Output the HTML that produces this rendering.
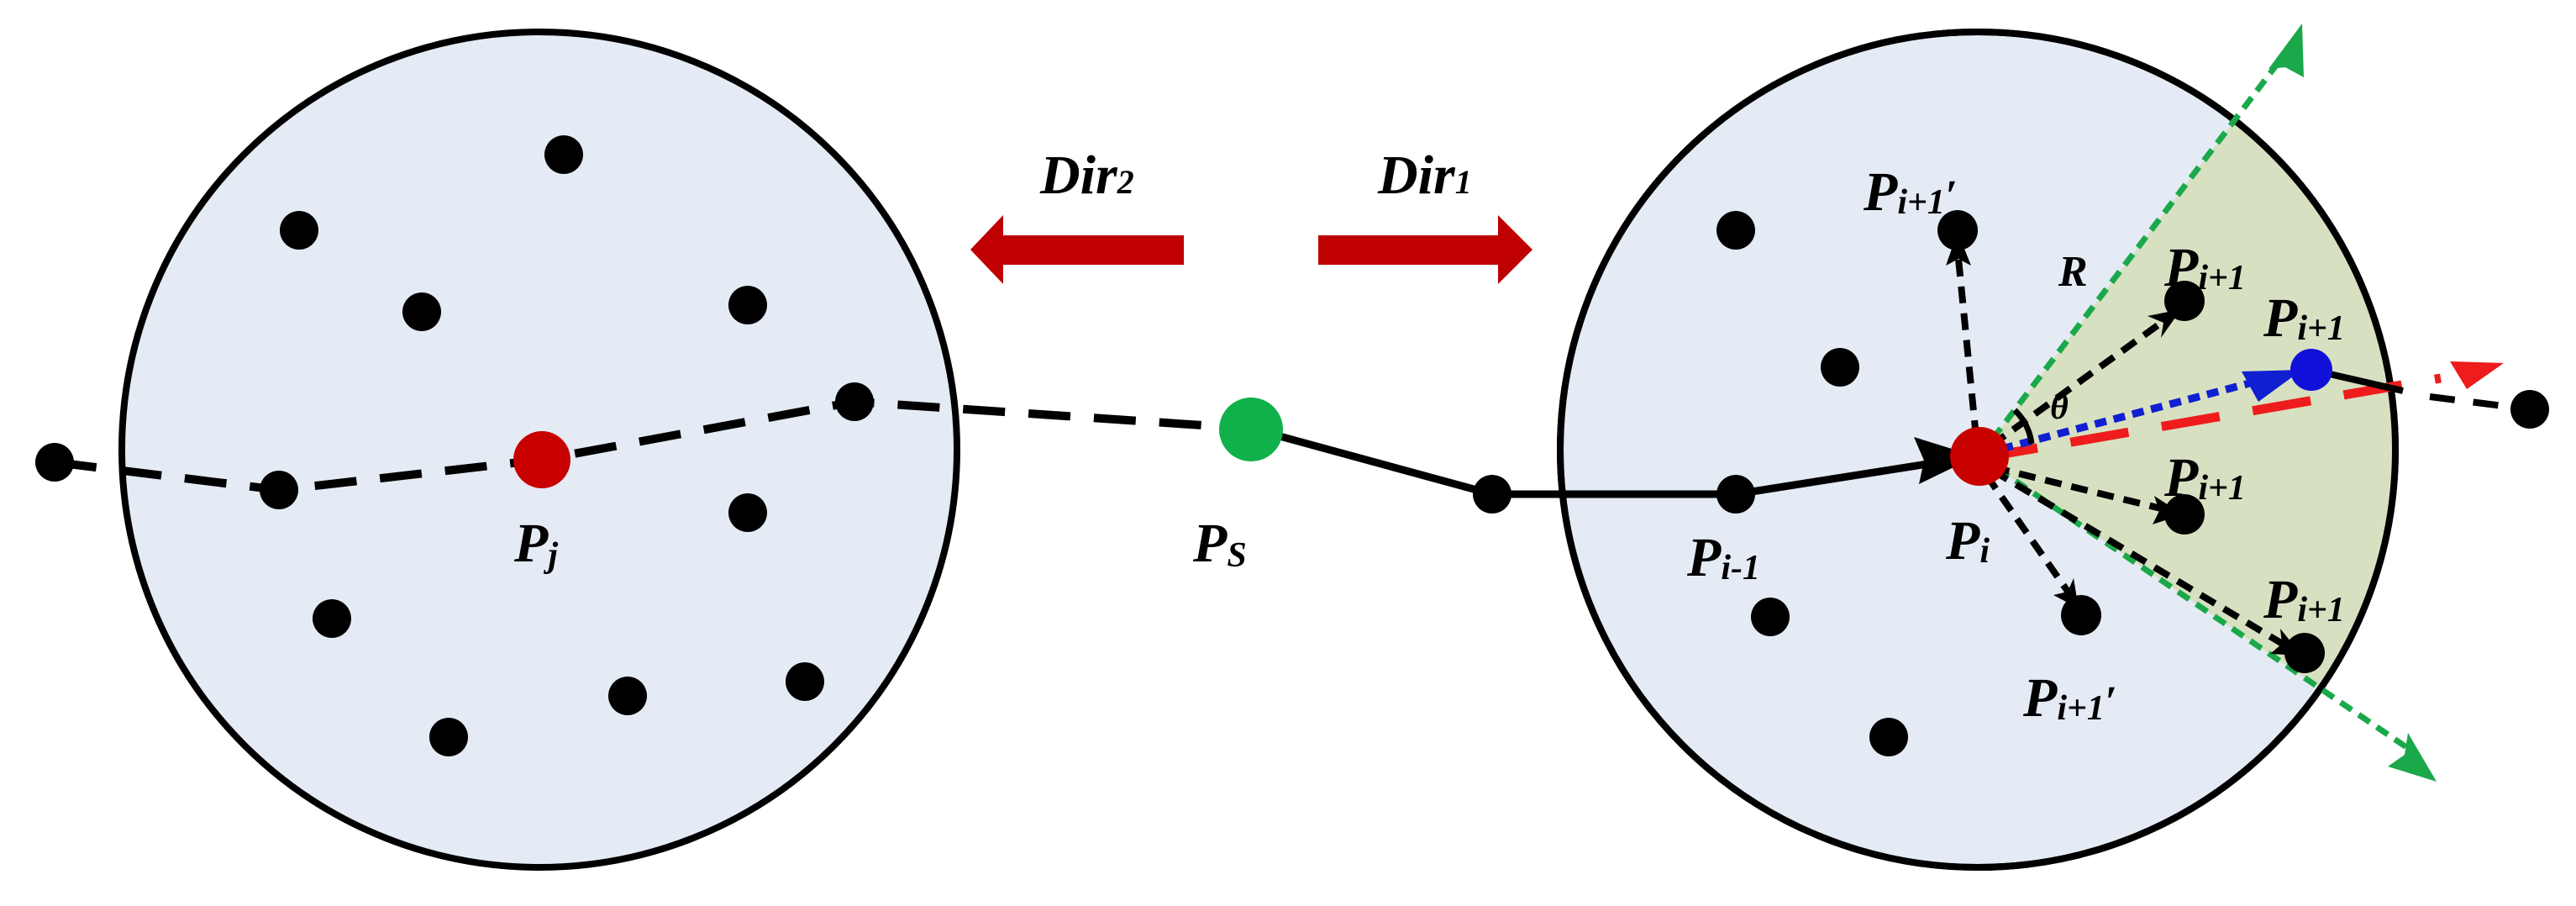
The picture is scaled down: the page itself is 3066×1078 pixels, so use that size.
<!DOCTYPE html>
<html><head><meta charset="utf-8"><style>
html,body{margin:0;padding:0;background:#fff;width:3066px;height:1078px;overflow:hidden}
svg{display:block}
text{font-family:"Liberation Serif",serif;font-weight:bold;font-style:italic;fill:#000}
</style></head><body>
<svg width="3066" height="1078" viewBox="0 0 3066 1078" xmlns="http://www.w3.org/2000/svg">
<defs>
<clipPath id="rc"><circle cx="2354" cy="535" r="497"/></clipPath>
</defs>
<!-- circles -->
<circle cx="642" cy="535" r="497" fill="#e4ebf5" stroke="#000" stroke-width="8"/>
<circle cx="2354" cy="535" r="497" fill="#e4ebf5" stroke="#000" stroke-width="8"/>
<!-- sector -->
<polygon clip-path="url(#rc)" points="2356,543 3074,-403 3384,1243" fill="#d8e0c2"/>
<circle cx="2354" cy="535" r="497" fill="none" stroke="#000" stroke-width="8"/>

<!-- left dashed path -->
<polyline points="65,550 332,583 645,547 1017,478 1490,510" fill="none" stroke="#000" stroke-width="10" stroke-dasharray="50,28"/>
<!-- solid path -->
<polyline points="1490,510 1776,588 2066,588 2320,548" fill="none" stroke="#000" stroke-width="9"/>
<path d="M2352,543 L2278,520 L2290,548 L2284,576 Z" fill="#000"/>

<!-- green dashed lines -->
<line x1="2356" y1="543" x2="2715" y2="70" stroke="#1aa84a" stroke-width="7" stroke-dasharray="16,10"/>
<line x1="2356" y1="543" x2="2870" y2="893" stroke="#1aa84a" stroke-width="7" stroke-dasharray="16,10"/>
<path d="M2740,28 L2742,92 L2720,80 L2700,82 Z" fill="#1aa84a"/>
<path d="M2900,930 L2842,912 L2862,898 L2866,872 Z" fill="#1aa84a"/>

<!-- black dashed arrows -->
<g stroke="#000" stroke-width="8" stroke-dasharray="20,12" fill="none">
<line x1="2352" y1="520" x2="2331" y2="308"/>
<line x1="2370" y1="530" x2="2578" y2="380"/>
<line x1="2372" y1="556" x2="2572" y2="605"/>
<line x1="2372" y1="560" x2="2720" y2="768"/>
<line x1="2364" y1="565" x2="2462" y2="705"/>
</g>
<g fill="#000">
<path d="M2330,276 L2346,316 L2331,308 L2316,316 Z"/>
<path d="M2596,368 L2572,402 L2575,384 L2556,376 Z"/>
<path d="M2598,612 L2562,624 L2570,608 L2564,590 Z"/>
<path d="M2740,780 L2702,778 L2716,766 L2714,748 Z"/>
<path d="M2474,724 L2444,708 L2461,704 L2468,688 Z"/>
</g>

<!-- red dashed -->
<line x1="2356" y1="545" x2="2905" y2="450" stroke="#ee1c1c" stroke-width="11" stroke-dasharray="70,40"/>
<path d="M2980,432 L2916,430 L2936,463 Z" fill="#ee1c1c"/>
<!-- black after blue -->
<line x1="2751" y1="440" x2="2860" y2="465" stroke="#000" stroke-width="8"/>
<line x1="2892" y1="472" x2="3011" y2="487" stroke="#000" stroke-width="8" stroke-dasharray="30,22"/>
<!-- blue dotted -->
<line x1="2360" y1="540" x2="2700" y2="450" stroke="#1020d0" stroke-width="9" stroke-dasharray="14,9"/>
<path d="M2740,440 L2668,442 L2688,478 Z" fill="#1020d0"/>

<!-- theta arc -->
<path d="M2398,488 A66,66 0 0 1 2418,528" fill="none" stroke="#000" stroke-width="7"/>

<!-- dots -->
<g fill="#000">
<circle cx="671" cy="184" r="23"/><circle cx="356" cy="274" r="23"/><circle cx="502" cy="371" r="23"/>
<circle cx="890" cy="363" r="23"/><circle cx="1017" cy="478" r="23"/><circle cx="332" cy="583" r="23"/>
<circle cx="65" cy="550" r="23"/><circle cx="890" cy="610" r="23"/><circle cx="395" cy="736" r="23"/>
<circle cx="747" cy="828" r="23"/><circle cx="958" cy="811" r="23"/><circle cx="534" cy="877" r="23"/>
<circle cx="1776" cy="588" r="23"/><circle cx="2066" cy="588" r="23"/>
<circle cx="2066" cy="274" r="23"/><circle cx="2330" cy="274" r="24"/><circle cx="2190" cy="437" r="23"/>
<circle cx="2600" cy="358" r="24"/><circle cx="3011" cy="487" r="23"/><circle cx="2600" cy="612" r="24"/>
<circle cx="2477" cy="732" r="24"/><circle cx="2743" cy="777" r="24"/><circle cx="2107" cy="734" r="23"/>
<circle cx="2248" cy="877" r="23"/>
</g>
<circle cx="645" cy="547" r="34" fill="#c80000"/>
<circle cx="2356" cy="543" r="35" fill="#c80000"/>
<circle cx="1489" cy="511" r="38" fill="#10b04a"/>
<circle cx="2751" cy="440" r="25" fill="#1010d8"/>

<!-- red direction arrows -->
<path d="M1155,297 L1194,256 L1194,280 L1409,280 L1409,315 L1194,315 L1194,338 Z" fill="#c00000"/>
<path d="M1824,297 L1783,256 L1783,280 L1569,280 L1569,315 L1783,315 L1783,338 Z" fill="#c00000"/>

<!-- labels -->
<g font-size="66">
<text x="1238" y="230">Dir<tspan font-size="40">2</tspan></text>
<text x="1640" y="230">Dir<tspan font-size="40">1</tspan></text>
<text x="612" y="668">P<tspan font-size="42" dy="6">j</tspan></text>
<text x="1420" y="668">P<tspan font-size="42" dy="6">S</tspan></text>
<text x="2008" y="685">P<tspan font-size="42" dy="4">i-1</tspan></text>
<text x="2316" y="665">P<tspan font-size="42" dy="4">i</tspan></text>
<text x="2218" y="250">P<tspan font-size="42" dy="4">i+1</tspan><tspan dy="-4" font-size="52">′</tspan></text>
<text x="2576" y="340">P<tspan font-size="42" dy="4">i+1</tspan></text>
<text x="2694" y="400">P<tspan font-size="42" dy="4">i+1</tspan></text>
<text x="2576" y="590">P<tspan font-size="42" dy="4">i+1</tspan></text>
<text x="2694" y="735">P<tspan font-size="42" dy="4">i+1</tspan></text>
<text x="2408" y="852">P<tspan font-size="42" dy="4">i+1</tspan><tspan dy="-4" font-size="52">′</tspan></text>
</g>
<text x="2450" y="340" font-size="52" font-style="normal">R</text>
<text x="2440" y="498" font-size="42">θ</text>
</svg>
</body></html>
